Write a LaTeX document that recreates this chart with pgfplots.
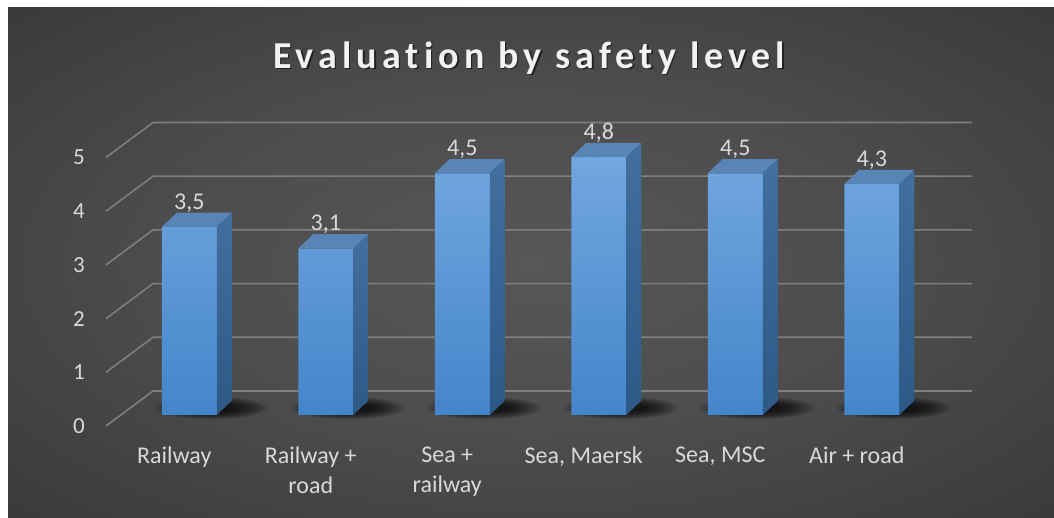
\documentclass[border=0pt]{standalone}
\usepackage{pgfplots}
\pgfplotsset{compat=1.18}
\usepackage{pgfplotstable}
\usepackage{fontspec}
\setmainfont{Carlito}[Ligatures=NoCommon]
\newfontfamily\titlefont[LetterSpace=13.5,Ligatures=NoCommon]{Carlito}
\definecolor{bgin}{HTML}{575757}
\definecolor{bgmid}{HTML}{4C4C4C}
\definecolor{bgout}{HTML}{2B2B2B}
\definecolor{bgcorner}{HTML}{232323}
\definecolor{gridc}{HTML}{7F7F7F}
\definecolor{txt}{HTML}{D9D9D9}
\definecolor{frontT}{HTML}{72A7E0}
\definecolor{frontB}{HTML}{4485CA}
\definecolor{sideT}{HTML}{436F9E}
\definecolor{sideB}{HTML}{2C5986}
\definecolor{topc}{HTML}{5885B6}
\pgfdeclareradialshading{bgshade}{\pgfpoint{0bp}{0bp}}{color(0bp)=(bgin); color(18bp)=(bgmid); color(50bp)=(bgout); color(72bp)=(bgcorner)}
\pgfplotstableread{
x y
0.5 3.5
1.5 3.1
2.5 4.5
3.5 4.8
4.5 4.5
5.5 4.3
}\datatab
\begin{document}
\begin{tikzpicture}[x=1pt,y=1pt]
\useasboundingbox (0,0) rectangle (1054,518);
\fill[white] (0,0) rectangle (1054,518);
\shade[shading=bgshade] (8,0) rectangle (1054,510);
\node[anchor=base, text=black, opacity=0.55, font=\titlefont\bfseries\fontsize{38}{46}\selectfont] at (530.5,448) {Evaluation by safety level};
\node[anchor=base, text=white!95!black, font=\titlefont\bfseries\fontsize{38}{46}\selectfont] at (529,449.5) {Evaluation by safety level};
\begin{axis}[
  anchor=origin, at={(121pt,103pt)},
  x=136.5pt, y=53.7pt,
  xmin=0, xmax=6, ymin=0, ymax=5,
  clip=false, clip marker paths=true,
  axis line style={draw=none},
  major tick length=0pt,
  xtick={0.5,1.5,2.5,3.5,4.5,5.5},
  xticklabels={Railway, {Railway +\\road}, {Sea +\\railway}, {Sea, Maersk}, {Sea, MSC}, {Air + road}},
  ytick={0,1,2,3,4,5},
  /pgf/number format/assume math mode=true,
  /pgf/number format/use comma,
  xticklabel style={align=center, font=\fontsize{24}{30}\selectfont, text=txt, anchor=north, inner sep=0pt, xshift=-15pt, yshift=-32pt},
  yticklabel style={font=\fontsize{23}{28}\selectfont, text=txt, anchor=east, inner sep=0pt, xshift=-36pt, yshift=-11pt},
]
\pgfplotsinvokeforeach{0,...,5}{
  \draw[gridc, line width=1.6pt] ([shift={(-15pt,-11pt)}]axis cs:0,#1) -- ([shift={(32pt,24pt)}]axis cs:0,#1) -- ([shift={(32pt,24pt)}]axis cs:6,#1);
}
% soft shadows under the bars
\addplot[scatter, only marks, mark=*, mark size=0pt,
  visualization depends on={rawy \as \ry},
  scatter/@pre marker code/.code={
    \pgfmathsetmacro\hb{7-\ry*53.7}
    \foreach \k in {1,...,10} {
      \path[fill=black, draw=none, fill opacity=0.11] (22pt,\hb pt) ellipse [x radius={60pt-3.6pt*\k}, y radius={12pt-0.8pt*\k}];
    }
  },
  scatter/@post marker code/.code={}
] table[x=x,y=y] {\datatab};
% front faces
\addplot[ybar, bar width=55pt, draw=none, top color=frontT, bottom color=frontB] table[x=x,y=y] {\datatab};
% top and side faces
\addplot[scatter, only marks, mark=*, mark size=0pt,
  visualization depends on={rawy \as \ry},
  scatter/@pre marker code/.code={
    \pgfmathsetmacro\hb{14.3-\ry*53.7}
    \pgfmathsetmacro\hc{-\ry*53.7}
    \path[fill=topc, draw=none] (-27.5pt,0pt) -- (27.5pt,0pt) -- (42.5pt,14.3pt) -- (-12.5pt,14.3pt) -- cycle;
    \path[draw=none, top color=sideT, bottom color=sideB] (27.5pt,0pt) -- (42.5pt,14.3pt) -- (42.5pt,\hb pt) -- (27.5pt,\hc pt) -- cycle;
  },
  scatter/@post marker code/.code={}
] table[x=x,y=y] {\datatab};
% value labels
\addplot[draw=none, mark=none,
  nodes near coords,
  every node near coord/.append style={anchor=base, yshift=18pt, inner sep=0pt, font=\fontsize{24}{28}\selectfont, text=txt},
] table[x=x,y=y] {\datatab};
\end{axis}
\end{tikzpicture}
\end{document}
